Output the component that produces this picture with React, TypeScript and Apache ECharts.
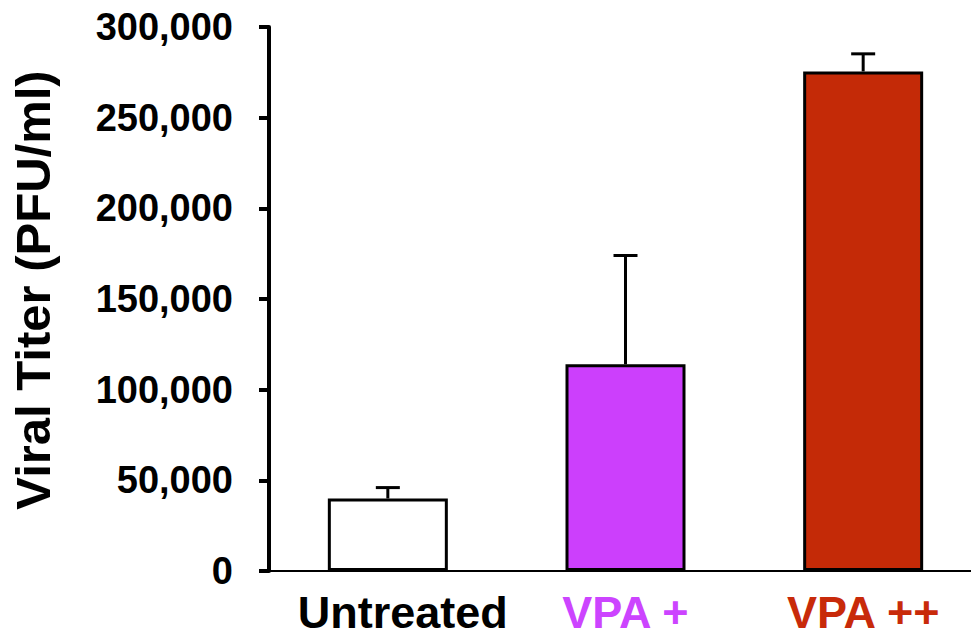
import React, { useEffect, useRef } from "react";
import * as echarts from "echarts";

const categories = ["Untreated", "VPA +", "VPA ++"];
const meanTiter = [40000, 114000, 275500];
const upperError = [46000, 174000, 285200];
const barColors = ["#ffffff", "#cc3ffc", "#c42a07"];
const labelColors = ["#000000", "#cc44ff", "#c82a0a"];
const yTicks = { min: 0, max: 300000, interval: 50000 };
const yTitle = "Viral Titer (PFU/ml)";

const FONT = "'Liberation Sans', Arial, Helvetica, sans-serif";

export default function App() {
  const ref = useRef<HTMLDivElement>(null);
  useEffect(() => {
    if (!ref.current) return;
    const chart = echarts.init(ref.current, null, { renderer: "svg" });
    chart.setOption({
      animation: false,
      backgroundColor: "#ffffff",
      grid: { left: 264, top: 27, bottom: 66, right: 0 },
      xAxis: {
        type: "category",
        data: categories.map((c, i) => ({
          value: c,
          textStyle: {
            color: labelColors[i],
            padding: i === 0 ? [0, 0, 0, 30] : 0,
          },
        })),
        axisLine: { lineStyle: { color: "#000", width: 2 } },
        axisTick: { show: false },
        axisLabel: {
          fontFamily: FONT,
          fontWeight: "bold",
          fontSize: 45,
          margin: 19,
          interval: 0,
        },
      },
      yAxis: {
        type: "value",
        min: yTicks.min,
        max: yTicks.max,
        interval: yTicks.interval,
        name: yTitle,
        nameLocation: "middle",
        nameGap: 212,
        nameTextStyle: {
          fontFamily: FONT,
          fontWeight: "bold",
          fontSize: 49,
          color: "#000",
          padding: [0, 0, 0, 18],
        },
        splitLine: { show: false },
        axisLine: { show: true, lineStyle: { color: "#000", width: 4 } },
        axisTick: { show: true, length: 10, lineStyle: { color: "#000", width: 4 } },
        axisLabel: {
          fontFamily: FONT,
          fontWeight: "bold",
          fontSize: 38,
          color: "#000",
          margin: 36,
          formatter: (v: number) => v.toLocaleString("en-US"),
        },
      },
      series: [
        {
          type: "custom",
          z: 1,
          data: categories.map((_, i) => [i, meanTiter[i], upperError[i]]),
          renderItem: (params: any, api: any) => {
            const idx = api.value(0);
            const base = api.coord([idx, api.value(1)]);
            const top = api.coord([idx, api.value(2)]);
            const half = 12;
            return {
              type: "group",
              children: [
                {
                  type: "line",
                  shape: { x1: base[0], y1: base[1], x2: top[0], y2: top[1] },
                  style: { stroke: "#000", lineWidth: 3 },
                },
                {
                  type: "line",
                  shape: { x1: top[0] - half, y1: top[1], x2: top[0] + half, y2: top[1] },
                  style: { stroke: "#000", lineWidth: 3 },
                },
              ],
            };
          },
        },
        {
          type: "bar",
          z: 2,
          barWidth: 120,
          data: meanTiter.map((v, i) => ({
            value: v,
            itemStyle: { color: barColors[i], borderColor: "#000", borderWidth: 3 },
          })),
        },
      ],
    });
    return () => chart.dispose();
  }, []);
  return (
    <div
      ref={ref}
      style={{ position: "fixed", left: 0, top: 0, width: 982, height: 637, background: "#fff" }}
    />
  );
}
